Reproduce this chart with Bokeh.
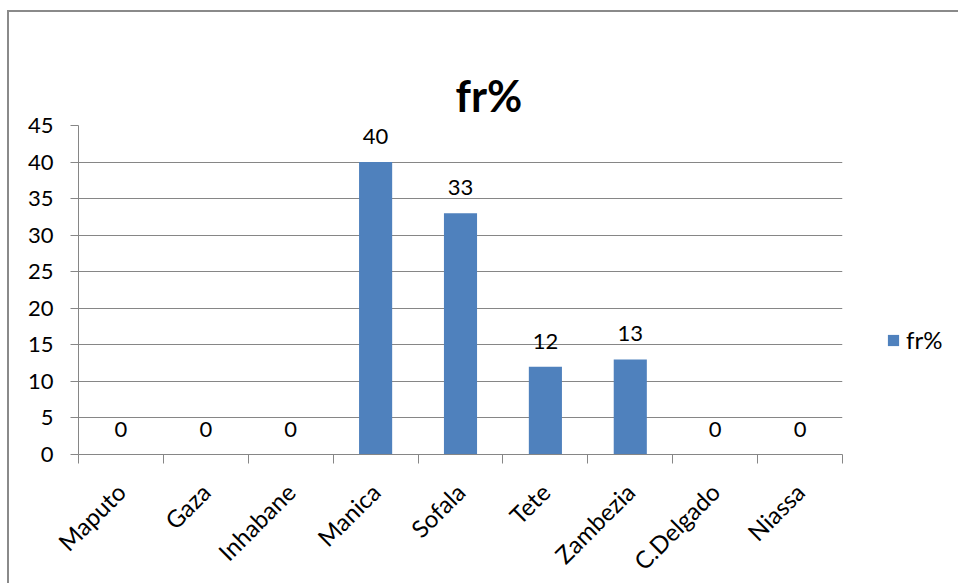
import math
import numpy as np
from bokeh.plotting import figure
from bokeh.models import (ColumnDataSource, Range1d, FixedTicker, LinearAxis,
                          LabelSet, Legend, LegendItem, Title)
from bokeh.core.properties import value
from bokeh.embed import file_html
from bokeh.resources import INLINE

# ---- data ----
categories = ["Maputo", "Gaza", "Inhabane", "Manica", "Sofala", "Tete",
              "Zambezia", "C.Delgado", "Niassa"]
values = [0, 0, 0, 40, 33, 12, 13, 0, 0]
y_ticks = [0, 5, 10, 15, 20, 25, 30, 35, 40, 45]
series_name = "fr%"
chart_title = "fr%"

FONT = "Lato"
GRAY = "#868686"
BLUE = "#4F81BD"
TXT = "#000000"

n = len(categories)
xpos = [i + 0.5 for i in range(n)]
src = ColumnDataSource(dict(x=xpos, top=values, cat=categories,
                            label=[str(v) for v in values]))

p = figure(frame_width=764, frame_height=329,
           x_range=Range1d(0, n), y_range=Range1d(0, y_ticks[-1]),
           output_backend="svg", toolbar_location=None,
           min_border_left=69, min_border_top=113,
           min_border_right=114, min_border_bottom=127)
p.styles = {"margin-top": "10px", "margin-left": "7px",
            "border-top": "2px solid #8a8a8a",
            "border-left": "2px solid #8a8a8a"}
p.outline_line_color = None
p.background_fill_color = "white"
p.border_fill_color = "white"

# spacer title (closest to the frame) and the real title above it
p.title.text = " "
p.title.text_font_size = "1px"
p.title.standoff = 42

main_title = Title(text=chart_title, text_font=FONT, text_font_size="43px",
                   text_font_style="bold", text_color=TXT, align="left",
                   offset=377, standoff=10)
p.add_layout(main_title, "above")

bars = p.vbar(x="x", top="top", width=0.39, source=src,
              fill_color=BLUE, line_color=None)

# grid
p.xgrid.grid_line_color = None
p.ygrid.grid_line_color = GRAY
p.ygrid.ticker = FixedTicker(ticks=y_ticks)

# y axis
ya = p.yaxis[0]
ya.ticker = FixedTicker(ticks=y_ticks)
ya.axis_line_color = GRAY
ya.major_tick_line_color = GRAY
ya.major_tick_out = 8
ya.major_tick_in = 0
ya.minor_tick_line_color = None
ya.major_label_text_font = FONT
ya.major_label_text_font_size = "22px"
ya.major_label_text_color = TXT
ya.major_label_standoff = 17

# x axis: boundary ticks
xa = p.xaxis[0]
xa.ticker = FixedTicker(ticks=list(range(n + 1)))
xa.major_label_overrides = {i: "" for i in range(n + 1)}
xa.axis_line_color = GRAY
xa.major_tick_line_color = GRAY
xa.major_tick_out = 9
xa.major_tick_in = 0
xa.minor_tick_line_color = None
xa.major_label_standoff = 0
xa.major_label_text_font_size = "1px"

# x axis: category labels
xl = LinearAxis(ticker=FixedTicker(ticks=xpos),
                major_label_overrides={x: c for x, c in zip(xpos, categories)})
xl.axis_line_color = None
xl.major_tick_line_color = None
xl.minor_tick_line_color = None
xl.major_label_orientation = math.pi / 4
xl.major_label_text_font = FONT
xl.major_label_text_font_size = "24px"
xl.major_label_text_color = TXT
xl.major_label_standoff = 18
p.add_layout(xl, "below")

# value labels
labels = LabelSet(x="x", y="top", text="label", source=src,
                  y_offset=18, text_align="center", text_baseline="alphabetic",
                  text_font=value(FONT), text_font_size="22px",
                  text_color=TXT)
p.add_layout(labels)

# legend
legend = Legend(items=[LegendItem(label=series_name, renderers=[bars])],
                location=(44, 100), orientation="vertical",
                glyph_width=14, glyph_height=14, label_text_font=FONT,
                label_text_font_size="24px", label_text_color=TXT,
                border_line_color=None, background_fill_alpha=0,
                padding=0, margin=0, label_standoff=6)
p.add_layout(legend, "right")

open("out.html", "w").write(file_html(p, INLINE))
